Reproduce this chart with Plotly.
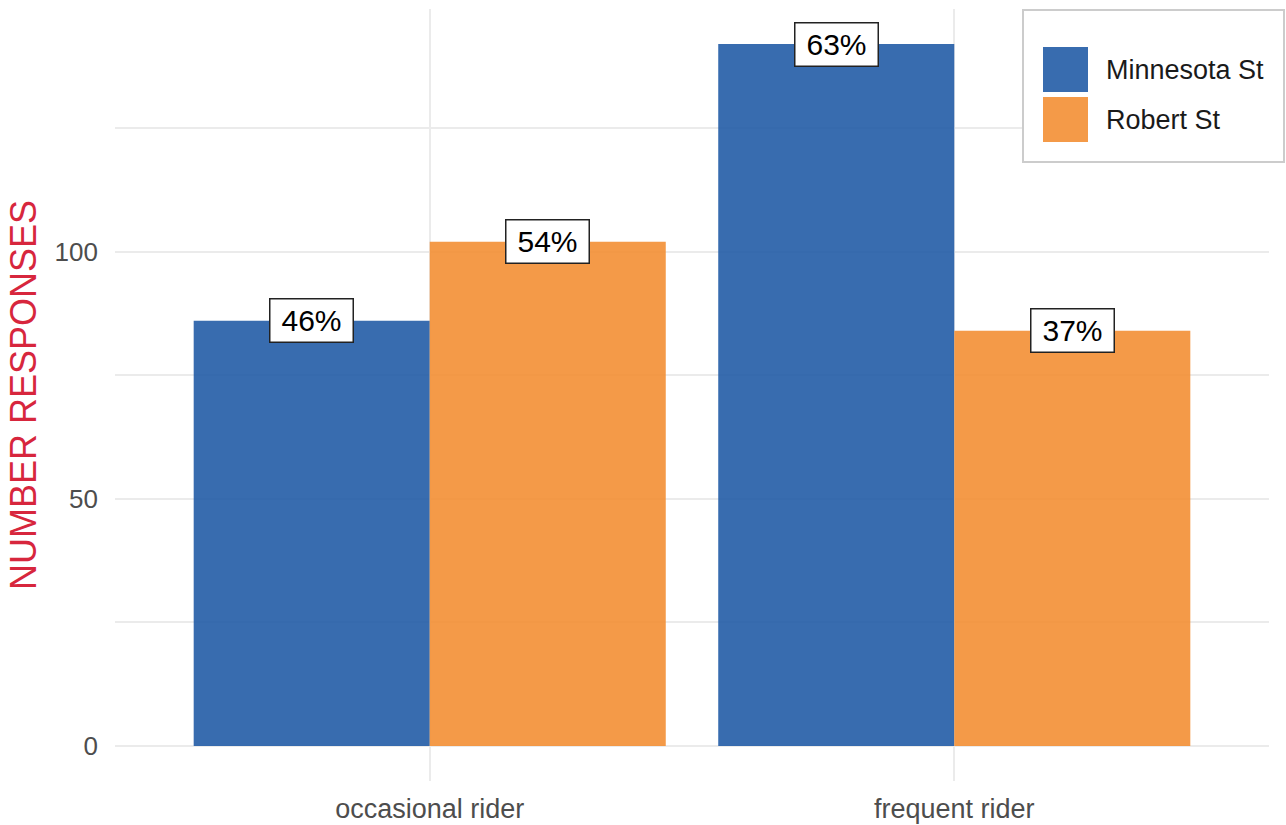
import plotly.graph_objects as go

categories = ["occasional rider", "frequent rider"]
series_names = ["Minnesota St", "Robert St"]
minnesota_values = [86, 142]
robert_values = [102, 84]
y_tick_values = [0, 50, 100]
y_tick_labels = ["0", "50", "100"]

colors = ["rgba(34,92,166,0.9)", "rgba(243,143,52,0.9)"]
W, H = 1286, 825
L, R, T, B = 115, 17, 9, 44
PW, PH = W - L - R, H - T - B
FONT = "Liberation Sans, Arial, sans-serif"

series_values = [minnesota_values, robert_values]
totals = [a + b for a, b in zip(minnesota_values, robert_values)]

fig = go.Figure()
for name, vals, col in zip(series_names, series_values, colors):
    fig.add_trace(go.Bar(x=categories, y=vals, name=name, marker=dict(color=col, line=dict(width=0)),
                         showlegend=False))

# percentage labels
px_per_cat = PW / 2.2
offsets = [-0.225, 0.225]
for si, vals in enumerate(series_values):
    for ci, cat in enumerate(categories):
        pct = round(100 * vals[ci] / totals[ci])
        fig.add_annotation(x=cat, y=vals[ci], xref="x", yref="y", text=f"{pct}%",
                           showarrow=False, xshift=offsets[si] * px_per_cat,
                           width=72, height=32, align="center", valign="middle",
                           font=dict(family=FONT, size=30, color="black"),
                           bgcolor="white", bordercolor="#222222", borderwidth=1.5, borderpad=5)

# manual legend
def px2x(px):
    return (px - L) / PW

def py2y(py):
    return (H - B - py) / PH

fig.add_shape(type="rect", xref="paper", yref="paper", x0=px2x(1023), x1=px2x(1284),
              y0=py2y(162), y1=py2y(10), line=dict(color="#CCCCCC", width=2), fillcolor="white", layer="above")
for i, (name, col) in enumerate(zip(series_names, colors)):
    top = 47 + i * 50
    fig.add_shape(type="rect", xref="paper", yref="paper", x0=px2x(1043), x1=px2x(1088),
                  y0=py2y(top + 45), y1=py2y(top), line=dict(width=0), fillcolor=col, layer="above")
    fig.add_annotation(xref="paper", yref="paper", x=px2x(1104), y=py2y(top + 23), text=name,
                       showarrow=False, xanchor="left", yanchor="middle",
                       font=dict(family=FONT, size=27, color="#1A1A1A"))

fig.update_layout(
    width=W, height=H,
    margin=dict(l=L, r=R, t=T, b=B, autoexpand=False),
    plot_bgcolor="white", paper_bgcolor="white",
    barmode="group", bargap=0.1, bargroupgap=0,
    font=dict(family=FONT),
)
fig.update_xaxes(range=[-0.6, 1.6], showgrid=True, gridcolor="#EBEBEB", gridwidth=2,
                 showline=False, zeroline=False, ticks="", ticklabelstandoff=9,
                 tickfont=dict(size=27, color="#4D4D4D"), automargin=False)
fig.update_yaxes(range=[-7.1, 149.1], tickvals=y_tick_values, ticktext=y_tick_labels,
                 showgrid=True, gridcolor="#EBEBEB", gridwidth=2, zeroline=False, showline=False,
                 minor=dict(dtick=25, tick0=0, showgrid=True, gridcolor="#EBEBEB", gridwidth=1.5),
                 ticks="", ticklabelstandoff=16, automargin=False,
                 tickfont=dict(size=26, color="#4D4D4D"),
                 title=dict(text="NUMBER RESPONSES", standoff=7,
                            font=dict(size=36, color="#D7263D")))

fig.write_html("out.html")
